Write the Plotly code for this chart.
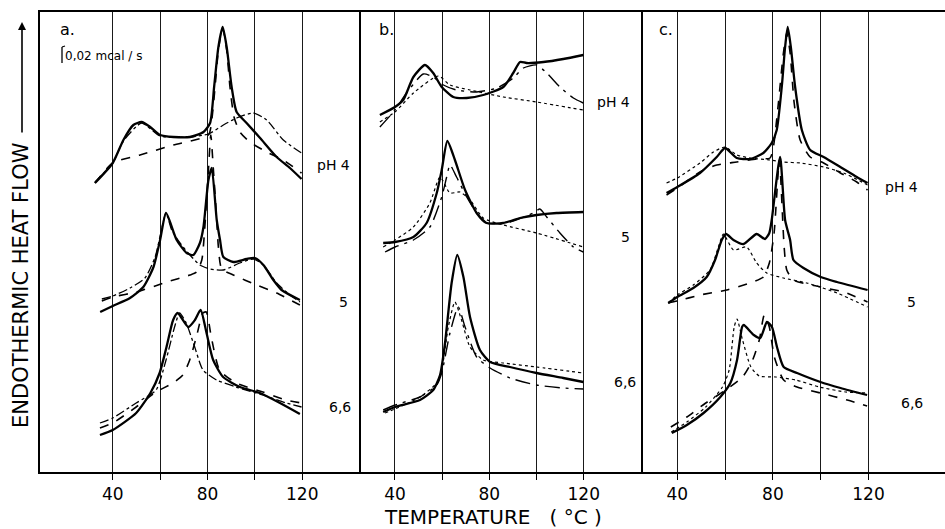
import plotly.graph_objects as go

W, H = 945, 529

# ---------------- data (temperature in degC, heat flow in arbitrary units) ----------------
# Panel a
a4_solid_T = [32.5, 40, 44.5, 48.7, 52.2, 55.8, 60, 65.6, 72.6, 78.3, 81.1, 82.8, 84.6, 86.4, 88.1, 90.2, 92.3, 96.5, 102.2, 109.2, 114.8, 119.7]
a4_solid_Q = [289, 309, 332, 347, 350, 345, 337, 335, 335, 340, 349, 385, 425, 445, 425, 385, 360, 349, 334, 315, 304, 293]
a4_dash_T = [32.5, 40, 51.5, 65.6, 80.4, 81.8, 83.2, 84.6, 86.4, 88.1, 89.5, 91.2, 93.7, 97.9, 105, 112, 119.7]
a4_dash_Q = [289, 309, 317, 327, 337, 352, 385, 422, 444, 422, 385, 355, 340, 330, 320, 312, 299]
a4_dashdot_T = [32.5, 40, 44.5, 52.2, 60, 72.6, 80.4, 86.7, 92.3, 99.4, 105, 112, 119.7]
a4_dashdot_Q = [290, 309, 331, 349, 336, 335, 338, 347, 354, 359, 352, 332, 319]

a5_solid_T = [34.7, 40, 47.3, 52.9, 57.2, 60, 62.5, 67, 71.2, 74, 76.8, 78.3, 80.4, 81.8, 83.9, 85.3, 86.7, 90.9, 96.5, 100, 103.6, 107.8, 111.3, 119]
a5_solid_Q = [160, 166, 174, 185, 205, 232, 259, 232, 219, 217, 229, 245, 292, 304, 252, 232, 215, 210, 213, 214, 207, 192, 182, 172]
a5_dash_T = [35.4, 40, 50.1, 62.8, 72.6, 75.4, 77.6, 78.7, 80.4, 81.4, 82.5, 83.9, 84.6, 86, 90.9, 100.8, 109.2, 119]
a5_dash_Q = [171, 175, 180, 190, 197, 200, 212, 239, 302, 337, 302, 252, 225, 203, 197, 187, 179, 167]
a5_dashdot_T = [35.4, 40, 47.3, 53.6, 57.9, 60.3, 62.5, 64.9, 68.4, 72.6, 76.8, 81.1, 86.7, 93.7, 99.4, 103.6, 109.2, 114.8, 119]
a5_dashdot_Q = [173, 176, 184, 194, 215, 239, 259, 242, 229, 217, 207, 203, 202, 209, 213, 207, 189, 177, 170]

a66_solid_T = [34.6, 40, 49.9, 55.9, 59.8, 62.7, 65.5, 67.4, 71.9, 74.7, 77.1, 79.6, 82.4, 86.6, 93.7, 102.1, 110.6, 119]
a66_solid_Q = [37, 42, 59, 79, 99, 125, 152, 159, 145, 152, 162, 139, 112, 95, 85, 79, 69, 58]
a66_dash_T = [34.6, 40, 49.9, 58.3, 65.4, 69.6, 72.5, 75.3, 78.1, 79.5, 81.6, 85.1, 92.1, 103.4, 113.2, 119.7]
a66_dash_Q = [44, 49, 65, 80, 89, 97, 112, 135, 159, 160, 135, 102, 89, 80, 72, 69]
a66_dashdot_T = [34.6, 40, 49.9, 58.3, 62.5, 66.1, 68.2, 71, 74.6, 78.1, 83.8, 92.1, 103.4, 113.2, 119.7]
a66_dashdot_Q = [49, 54, 69, 82, 112, 145, 159, 149, 125, 102, 92, 85, 77, 69, 65]

# Panel b
b4_solid_T = [33.6, 40, 43.5, 47.8, 52.7, 56.2, 59.8, 64.7, 70.4, 77.4, 85.9, 90.1, 93, 95.8, 102.9, 111.3, 119.8]
b4_solid_Q = [357, 365, 372, 395, 407, 399, 385, 375, 374, 377, 385, 399, 410, 409, 410, 413, 417]
b4_ldd_T = [33.6, 40, 44.9, 52, 56.2, 60.5, 66.1, 74.6, 83.1, 90.1, 94.4, 100, 104.3, 109.9, 115.6, 119.8]
b4_ldd_Q = [345, 362, 379, 398, 395, 387, 382, 380, 384, 394, 404, 407, 399, 385, 374, 369]
b4_dot_T = [33.6, 40, 47.8, 58.4, 63.3, 71.8, 85.9, 100, 119.8]
b4_dot_Q = [350, 360, 379, 396, 387, 382, 375, 370, 362]

b5_solid_T = [35, 40, 47.8, 53.4, 57.7, 59.8, 62.2, 65.4, 69.7, 74.6, 78.8, 85.9, 93, 100, 108.5, 119.8]
b5_solid_Q = [229, 230, 235, 249, 279, 302, 331, 312, 282, 259, 249, 249, 254, 257, 259, 260]
b5_ldd_T = [35.8, 40, 47.8, 54.8, 59.8, 61.9, 63.3, 66.1, 70.4, 74.6, 78.8, 88.7, 98.6, 101.4, 104.3, 109.9, 115.6, 119.8]
b5_ldd_Q = [220, 225, 232, 245, 275, 295, 307, 295, 275, 259, 249, 250, 259, 263, 255, 239, 225, 220]
b5_dot_T = [35, 40, 47.8, 54.8, 59.1, 63.3, 67.5, 71.8, 77.4, 85.9, 100, 119.8]
b5_dot_Q = [225, 232, 245, 269, 295, 279, 280, 272, 254, 247, 239, 225]

b66_solid_T = [35, 40, 50.6, 56.2, 59.1, 61.2, 64, 66.4, 69, 71.8, 76, 80.3, 88.7, 100, 111.3, 119.8]
b66_solid_Q = [60, 65, 72, 82, 97, 129, 189, 217, 195, 155, 122, 110, 105, 99, 94, 90]
b66_dot_T = [35.8, 40, 50.6, 57.7, 59.8, 62.6, 65.4, 68.2, 71.8, 77.4, 85.9, 100, 119.8]
b66_dot_Q = [59, 63, 75, 89, 102, 145, 170, 152, 125, 112, 109, 105, 99]
b66_ldd_T = [35, 40, 50.6, 57.7, 59.8, 63.3, 66.8, 69.7, 74.6, 80.3, 88.7, 100, 111.3, 119.8]
b66_ldd_Q = [62, 67, 75, 87, 99, 139, 165, 145, 115, 104, 94, 87, 84, 83]

# Panel c
c4_solid_T = [35.5, 40, 49.5, 56.5, 60, 64.9, 70.4, 76, 79.5, 81.6, 83.7, 85.1, 86.2, 87.5, 89.3, 92.1, 95.6, 101.2, 108.2, 115.1, 119.6]
c4_solid_Q = [279, 285, 299, 315, 324, 314, 313, 319, 329, 342, 385, 425, 445, 425, 385, 342, 322, 315, 305, 295, 289]
c4_dash_T = [35.5, 40, 49.5, 56.5, 64.9, 73.2, 78.8, 80.2, 82.3, 84.4, 85.8, 87.2, 88.9, 91.4, 95.6, 101.2, 108.2, 115.1, 119.6]
c4_dash_Q = [277, 284, 300, 307, 310, 313, 314, 325, 369, 419, 439, 419, 369, 332, 315, 309, 299, 290, 282]
c4_dot_T = [35.5, 40, 49.5, 55.1, 60, 64.9, 70.4, 78.8, 84.4, 91.4, 101.2, 109.6, 119.6]
c4_dot_Q = [289, 294, 309, 320, 325, 317, 314, 312, 310, 309, 305, 299, 287]

c5_solid_T = [36.2, 40, 46.7, 52.3, 55.8, 58.6, 60.4, 63.5, 67.7, 73.2, 76.7, 78.5, 79.5, 83, 85.1, 87.2, 88.6, 92.8, 100, 106.8, 119.6]
c5_solid_Q = [169, 175, 184, 195, 212, 232, 238, 232, 228, 238, 233, 239, 252, 315, 252, 232, 212, 204, 195, 190, 182]
c5_dash_T = [36.2, 40, 49.5, 60.7, 70.4, 76, 78.5, 80.5, 82.7, 84.1, 84.7, 85.8, 88.6, 100, 109.6, 119.6]
c5_dash_Q = [169, 171, 177, 182, 189, 195, 209, 239, 312, 252, 225, 202, 192, 185, 180, 170]
c5_dot_T = [36.2, 40, 46.7, 53.7, 57.2, 59.3, 63.5, 69, 73.2, 77.4, 84.4, 94.2, 106.8, 119.6]
c5_dot_Q = [169, 177, 187, 202, 225, 238, 222, 225, 209, 199, 194, 189, 179, 165]

c66_solid_T = [37.7, 44, 51, 58, 62.2, 65, 67.1, 67.8, 72, 74.7, 77.5, 79.6, 81.7, 84.5, 90.1, 99.9, 108.3, 119.4]
c66_solid_Q = [39, 47, 59, 75, 89, 112, 145, 147, 137, 134, 150, 145, 125, 105, 99, 90, 84, 77]
c66_dot_T = [37.5, 44, 51.9, 58.9, 61.7, 63.8, 65, 67.3, 70.8, 74.3, 81.2, 89.6, 99.4, 110.6, 119.4]
c66_dot_Q = [40, 50, 65, 85, 102, 145, 153, 132, 105, 96, 95, 92, 85, 80, 79]
c66_dash_T = [37.3, 44, 51.9, 60.3, 67.3, 71.5, 74.3, 76.4, 78.5, 80.6, 84.5, 90.1, 99.9, 111.1, 119.4]
c66_dash_Q = [45, 55, 69, 82, 95, 112, 132, 157, 145, 115, 92, 85, 79, 72, 66]

tick_vals = [40, 60, 80, 100, 120]
tick_text = ["40", "", "80", "", "120"]
panel_labels = ["a.", "b.", "c."]
ph_labels = ["pH 4", "5", "6,6"]

# ---------------- figure ----------------
def px(x):
    return x / W

def py(y):
    return 1 - y / H

STY = {
    "solid": dict(dash="solid", width=2.3),
    "dash": dict(dash="dash", width=1.6),
    "dashdot": dict(dash="dashdot", width=1.3),
    "ldd": dict(dash="longdashdot", width=1.4),
    "dot": dict(dash="dot", width=1.2),
}

fig = go.Figure()

def add(T, Q, style, ax):
    fig.add_trace(go.Scatter(
        x=T, y=Q, mode="lines", xaxis=ax[0], yaxis=ax[1],
        line=dict(color="black", shape="spline", smoothing=0.6, **STY[style]),
        showlegend=False, hoverinfo="skip"))

A, B, C = ("x", "y"), ("x2", "y2"), ("x3", "y3")
for T, Q, s in [(a4_dashdot_T, a4_dashdot_Q, "dashdot"), (a4_dash_T, a4_dash_Q, "dash"), (a4_solid_T, a4_solid_Q, "solid"),
                (a5_dashdot_T, a5_dashdot_Q, "dashdot"), (a5_dash_T, a5_dash_Q, "dash"), (a5_solid_T, a5_solid_Q, "solid"),
                (a66_dashdot_T, a66_dashdot_Q, "dashdot"), (a66_dash_T, a66_dash_Q, "dash"), (a66_solid_T, a66_solid_Q, "solid")]:
    add(T, Q, s, A)
for T, Q, s in [(b4_dot_T, b4_dot_Q, "dot"), (b4_ldd_T, b4_ldd_Q, "ldd"), (b4_solid_T, b4_solid_Q, "solid"),
                (b5_dot_T, b5_dot_Q, "dot"), (b5_ldd_T, b5_ldd_Q, "ldd"), (b5_solid_T, b5_solid_Q, "solid"),
                (b66_dot_T, b66_dot_Q, "dot"), (b66_ldd_T, b66_ldd_Q, "ldd"), (b66_solid_T, b66_solid_Q, "solid")]:
    add(T, Q, s, B)
for T, Q, s in [(c4_dot_T, c4_dot_Q, "dot"), (c4_dash_T, c4_dash_Q, "dash"), (c4_solid_T, c4_solid_Q, "solid"),
                (c5_dot_T, c5_dot_Q, "dot"), (c5_dash_T, c5_dash_Q, "dash"), (c5_solid_T, c5_solid_Q, "solid"),
                (c66_dot_T, c66_dot_Q, "dot"), (c66_dash_T, c66_dash_Q, "dash"), (c66_solid_T, c66_solid_Q, "solid")]:
    add(T, Q, s, C)

ydom = [py(472), py(12)]
def xax(dom, rng, anchor):
    return dict(domain=dom, range=rng, anchor=anchor, tickmode="array", tickvals=tick_vals, ticktext=tick_text,
                showgrid=True, gridcolor="#1a1a1a", gridwidth=1, showline=True, linecolor="black", linewidth=2,
                mirror=True, ticks="outside", ticklen=6, tickwidth=1, tickcolor="black",
                tickfont=dict(family="DejaVu Sans", size=17, color="black"), zeroline=False, fixedrange=True)

def yax(anchor):
    return dict(domain=ydom, range=[0, 460], anchor=anchor, showline=True, linecolor="black", linewidth=2,
                showticklabels=False, ticks="", showgrid=False, zeroline=False, fixedrange=True)

annotations = []
def text(s, x, y, size=15, **kw):
    annotations.append(dict(text=s, x=px(x), y=py(y), xref="paper", yref="paper", showarrow=False,
                            xanchor="center", yanchor="middle",
                            font=dict(family="DejaVu Sans", size=size, color="black"), **kw))

# panel letters
text(panel_labels[0], 67, 30, 16)
text(panel_labels[1], 386, 30, 16)
text(panel_labels[2], 666, 30, 16)
text("0,02 mcal / s", 103, 56, 12)
# pH labels
for (x, y), lab in zip([(333, 165), (343, 302), (340, 407)], ph_labels):
    text(lab, x, y, 14)
for (x, y), lab in zip([(613, 102), (625, 237), (625, 382)], ph_labels):
    text(lab, x, y, 14)
for (x, y), lab in zip([(901, 187), (911, 302), (912, 403)], ph_labels):
    text(lab, x, y, 14)
# axis titles
text("TEMPERATURE   ( °C )", 493, 517, 20)
text("ENDOTHERMIC HEAT FLOW", 21, 285, 21, textangle=-90)
annotations.append(dict(text="", x=px(22), y=py(22), xref="paper", yref="paper", showarrow=True,
                        ax=0, ay=112, arrowhead=2, arrowsize=1, arrowwidth=1.6, arrowcolor="black"))

shapes = [dict(type="line", xref="paper", yref="paper", x0=px(62), x1=px(62), y0=py(47), y1=py(63),
               line=dict(color="black", width=1.3)),
          dict(type="line", xref="paper", yref="paper", x0=px(62), x1=px(65), y0=py(47), y1=py(46),
               line=dict(color="black", width=1.3))]

fig.update_layout(
    width=W, height=H, margin=dict(l=0, r=0, t=0, b=0),
    paper_bgcolor="white", plot_bgcolor="white",
    xaxis=xax([px(40), px(361)], [9.3, 144.8], "y"),
    xaxis2=xax([px(361), px(643)], [25.6, 145.1], "y2"),
    xaxis3=xax([px(643), 1.0], [25.65, 152.0], "y3"),
    yaxis=yax("x"), yaxis2=yax("x2"), yaxis3=yax("x3"),
    annotations=annotations, shapes=shapes,
)

fig.write_html("out.html", config={"displayModeBar": False},
               post_script="document.body.style.margin='0px';document.body.style.overflow='hidden';")
